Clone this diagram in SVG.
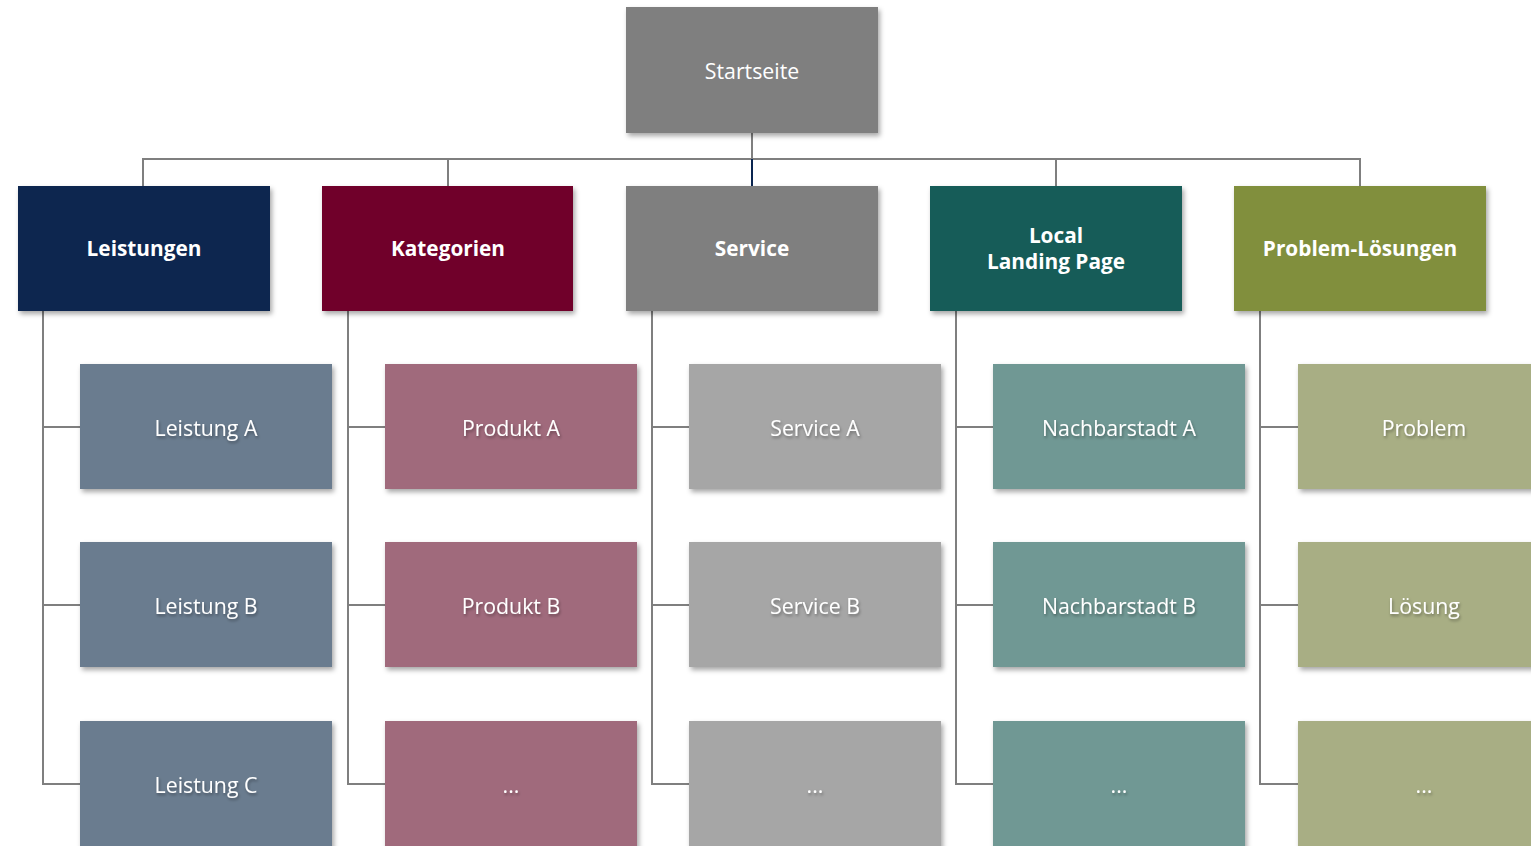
<svg xmlns="http://www.w3.org/2000/svg" width="1531" height="846" viewBox="0 0 1531 846">
<style>
.t{font-family:"Open Sans","Liberation Sans",sans-serif;font-size:21.3px;fill:#fff;text-anchor:middle;dominant-baseline:central}
.b{font-weight:bold;font-size:20.8px}
.c{stroke:#7f7f7f;stroke-width:2;fill:none}
.ts{filter:url(#ts)}
</style>
<defs>
<filter id="sh" x="-10%" y="-10%" width="130%" height="130%">
<feDropShadow dx="2" dy="3" stdDeviation="2.5" flood-color="#000" flood-opacity="0.35"/>
</filter>
<filter id="ts" x="-10%" y="-30%" width="120%" height="160%">
<feDropShadow dx="1" dy="2" stdDeviation="1.5" flood-color="#000" flood-opacity="0.35"/>
</filter>
</defs>
<g id="connectors">
<path class="c" d="M752 133V159M143 186V159H1360V186M448 159V186M1056 159V186"/>
<path d="M752 159V186" stroke="#0a2550" stroke-width="2"/>
<path class="c" d="M43 311V784H80M43 427H80M43 605H80"/>
<path class="c" d="M348 311V784H385M348 427H385M348 605H385"/>
<path class="c" d="M652 311V784H689M652 427H689M652 605H689"/>
<path class="c" d="M956 311V784H993M956 427H993M956 605H993"/>
<path class="c" d="M1260 311V784H1298M1260 427H1298M1260 605H1298"/>
</g>
<g id="startseite"><rect x="626" y="7" width="252" height="126" fill="#7f7f7f" filter="url(#sh)"/><text class="t" x="752" y="70">Startseite</text></g>
<g id="leistungen"><rect x="18" y="186" width="252" height="125" fill="#0a2550" filter="url(#sh)"/><text class="t b" x="144" y="248">Leistungen</text></g>
<g id="kategorien"><rect x="322" y="186" width="251" height="125" fill="#70002a" filter="url(#sh)"/><text class="t b" x="448" y="248">Kategorien</text></g>
<g id="service"><rect x="626" y="186" width="252" height="125" fill="#7f7f7f" filter="url(#sh)"/><text class="t b" x="752" y="248">Service</text></g>
<g id="local"><rect x="930" y="186" width="252" height="125" fill="#145c58" filter="url(#sh)"/><text class="t b" x="1056" y="235">Local</text><text class="t b" x="1056" y="261">Landing Page</text></g>
<g id="problemloesungen"><rect x="1234" y="186" width="252" height="125" fill="#818f3d" filter="url(#sh)"/><text class="t b" x="1360" y="248">Problem-Lösungen</text></g>

<g id="leistung-a"><rect x="80" y="364" width="252" height="125" fill="#6a7b8f" filter="url(#sh)"/><text class="t ts" x="206" y="427">Leistung A</text></g>
<g id="leistung-b"><rect x="80" y="542" width="252" height="125" fill="#6a7b8f" filter="url(#sh)"/><text class="t ts" x="206" y="605">Leistung B</text></g>
<g id="leistung-c"><rect x="80" y="721" width="252" height="130" fill="#6a7b8f" filter="url(#sh)"/><text class="t ts" x="206" y="784">Leistung C</text></g>

<g id="produkt-a"><rect x="385" y="364" width="252" height="125" fill="#a06a7c" filter="url(#sh)"/><text class="t ts" x="511" y="427">Produkt A</text></g>
<g id="produkt-b"><rect x="385" y="542" width="252" height="125" fill="#a06a7c" filter="url(#sh)"/><text class="t ts" x="511" y="605">Produkt B</text></g>
<g id="produkt-c"><rect x="385" y="721" width="252" height="130" fill="#a06a7c" filter="url(#sh)"/><text class="t ts" x="511" y="784">...</text></g>

<g id="service-a"><rect x="689" y="364" width="252" height="125" fill="#a6a6a6" filter="url(#sh)"/><text class="t ts" x="815" y="427">Service A</text></g>
<g id="service-b"><rect x="689" y="542" width="252" height="125" fill="#a6a6a6" filter="url(#sh)"/><text class="t ts" x="815" y="605">Service B</text></g>
<g id="service-c"><rect x="689" y="721" width="252" height="130" fill="#a6a6a6" filter="url(#sh)"/><text class="t ts" x="815" y="784">...</text></g>

<g id="nachbar-a"><rect x="993" y="364" width="252" height="125" fill="#6f9894" filter="url(#sh)"/><text class="t ts" x="1119" y="427">Nachbarstadt A</text></g>
<g id="nachbar-b"><rect x="993" y="542" width="252" height="125" fill="#6f9894" filter="url(#sh)"/><text class="t ts" x="1119" y="605">Nachbarstadt B</text></g>
<g id="nachbar-c"><rect x="993" y="721" width="252" height="130" fill="#6f9894" filter="url(#sh)"/><text class="t ts" x="1119" y="784">...</text></g>

<g id="problem"><rect x="1298" y="364" width="252" height="125" fill="#a8ae84" filter="url(#sh)"/><text class="t ts" x="1424" y="427">Problem</text></g>
<g id="loesung"><rect x="1298" y="542" width="252" height="125" fill="#a8ae84" filter="url(#sh)"/><text class="t ts" x="1424" y="605">Lösung</text></g>
<g id="problem-c"><rect x="1298" y="721" width="252" height="130" fill="#a8ae84" filter="url(#sh)"/><text class="t ts" x="1424" y="784">...</text></g>
</svg>
